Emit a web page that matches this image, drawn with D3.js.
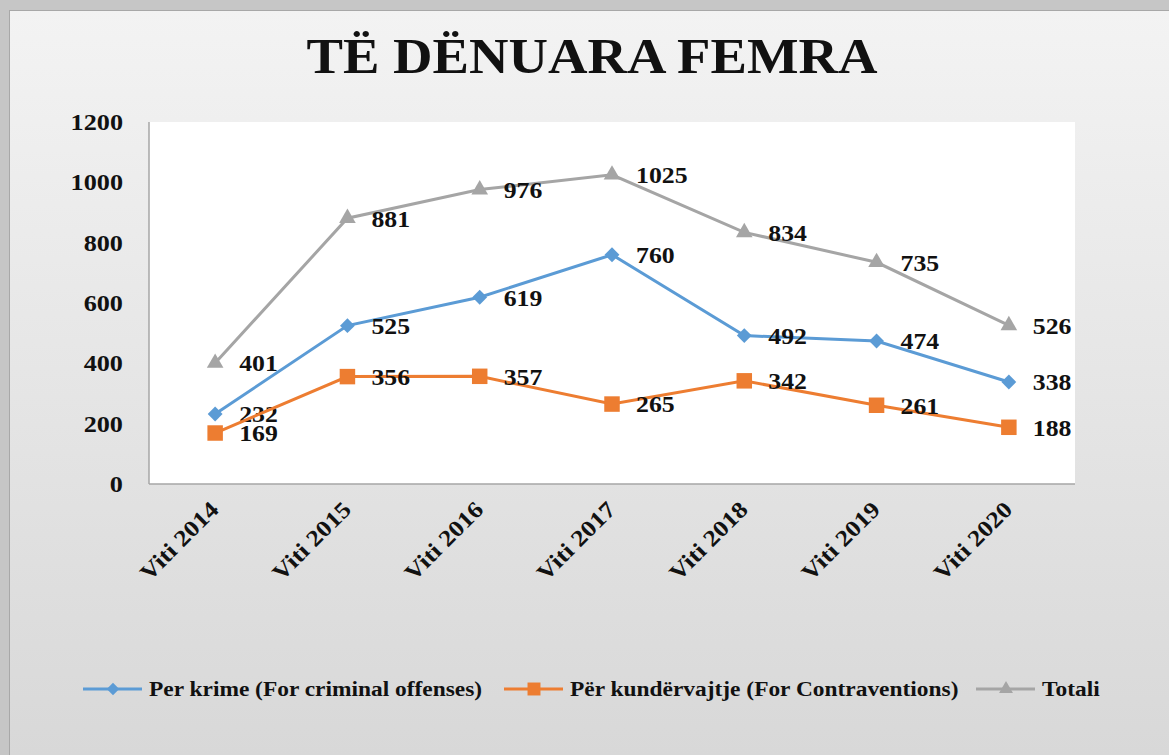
<!DOCTYPE html>
<html>
<head>
<meta charset="utf-8">
<script src="https://cdn.jsdelivr.net/npm/d3@7"></script>
<style>
body { margin: 0; padding: 0; overflow: hidden; }
svg { display: block; }
</style>
</head>
<body>
<div id="chart"></div>
<script>
var width = 1169;
var height = 755;

var years = ["Viti 2014", "Viti 2015", "Viti 2016", "Viti 2017", "Viti 2018", "Viti 2019", "Viti 2020"];
var crimes = [232, 525, 619, 760, 492, 474, 338];
var contraventions = [169, 356, 357, 265, 342, 261, 188];
var totals = [401, 881, 976, 1025, 834, 735, 526];
var yTicks = [0, 200, 400, 600, 800, 1000, 1200];
var seriesNames = ["Per krime (For criminal offenses)", "Për kundërvajtje (For Contraventions)", "Totali"];

var colors = ["#5b9bd5", "#ed7d31", "#a5a5a5"];
var allSeries = [crimes, contraventions, totals];
var font = "'Liberation Serif', 'DejaVu Serif', serif";

var plot = {left: 149, right: 1075, top: 122, bottom: 484};

// the original font (garamond) is wider, so stretch the glyphs a bit
function stretch(sel, k) {
	sel.each(function() {
		var w = this.getComputedTextLength();
		d3.select(this).attr("textLength", w * k).attr("lengthAdjust", "spacingAndGlyphs");
	});
}

// marker shapes: diamond = rotated square
function marker(s, scale) {
	if(s == 0) return {d: d3.symbol().type(d3.symbolSquare).size(110 * scale)(), rot: 45};
	if(s == 1) return {d: d3.symbol().type(d3.symbolSquare).size(240 * scale)(), rot: 0};
	return {d: d3.symbol().type(d3.symbolTriangle).size(120 * scale)(), rot: 0};
}

var svg = d3.select("#chart").append("svg")
	.attr("width", width)
	.attr("height", height);

// background gradient of the chart area
var grad = svg.append("defs").append("linearGradient")
	.attr("id", "bg")
	.attr("x1", 0).attr("y1", 0).attr("x2", 0).attr("y2", 1);
grad.append("stop").attr("offset", "0%").attr("stop-color", "#f3f3f3");
grad.append("stop").attr("offset", "100%").attr("stop-color", "#d8d8d8");

svg.append("rect")
	.attr("width", width).attr("height", height)
	.attr("fill", "#c6c6c6");
svg.append("rect")
	.attr("x", 10).attr("y", 11)
	.attr("width", width - 10).attr("height", height - 11)
	.attr("fill", "url(#bg)");
svg.append("line") //thin darker edges
	.attr("x1", 9.5).attr("y1", 10).attr("x2", 9.5).attr("y2", height)
	.attr("stroke", "#a8a8a8");
svg.append("line")
	.attr("x1", 9).attr("y1", 10.5).attr("x2", width).attr("y2", 10.5)
	.attr("stroke", "#a8a8a8");

// plot area
svg.append("rect")
	.attr("x", plot.left).attr("y", plot.top)
	.attr("width", plot.right - plot.left).attr("height", plot.bottom - plot.top)
	.attr("fill", "white");

var x = d3.scalePoint()
	.domain(years)
	.range([plot.left, plot.right])
	.padding(0.5);

var y = d3.scaleLinear()
	.domain([0, 1200])
	.range([plot.bottom, plot.top]);

// axes lines
svg.append("line")
	.attr("x1", plot.left).attr("y1", plot.top).attr("x2", plot.left).attr("y2", plot.bottom)
	.attr("stroke", "#a6a6a6").attr("stroke-width", 1.5);
svg.append("line")
	.attr("x1", plot.left).attr("y1", plot.bottom).attr("x2", plot.right).attr("y2", plot.bottom)
	.attr("stroke", "#a6a6a6").attr("stroke-width", 1.5);

// y tick labels
svg.selectAll(".ytick")
	.data(yTicks)
	.enter().append("text")
	.attr("class", "ytick")
	.attr("x", 123)
	.attr("y", function(d) { return y(d); })
	.attr("dy", "0.35em")
	.attr("text-anchor", "end")
	.attr("font-family", font)
	.attr("font-size", "23px")
	.attr("font-weight", "bold")
	.attr("fill", "#111")
	.text(function(d) { return d; })
	.call(stretch, 1.14);

// x tick labels rotated
svg.selectAll(".xtick")
	.data(years)
	.enter().append("text")
	.attr("class", "xtick")
	.attr("transform", function(d) { return "translate(" + (x(d) + 5) + "," + 511 + ") rotate(-45)"; })
	.attr("text-anchor", "end")
	.attr("font-family", font)
	.attr("font-size", "23px")
	.attr("font-weight", "bold")
	.attr("fill", "#111")
	.text(function(d) { return d; })
	.call(stretch, 1.14);

// lines, markers and value labels
var line = d3.line()
	.x(function(d, i) { return x(years[i]); })
	.y(function(d) { return y(d); });

allSeries.forEach(function(vals, s) {
	svg.append("path")
		.datum(vals)
		.attr("d", line)
		.attr("fill", "none")
		.attr("stroke", colors[s])
		.attr("stroke-width", 3);

	var m = marker(s, 1);
	svg.selectAll(".m" + s)
		.data(vals)
		.enter().append("path")
		.attr("class", "m" + s)
		.attr("transform", function(d, i) { return "translate(" + x(years[i]) + "," + y(d) + ") rotate(" + m.rot + ")"; })
		.attr("d", m.d)
		.attr("fill", colors[s]);

	svg.selectAll(".l" + s)
		.data(vals)
		.enter().append("text")
		.attr("class", "l" + s)
		.attr("x", function(d, i) { return x(years[i]) + 24; })
		.attr("y", function(d) { return y(d); })
		.attr("dy", "0.36em")
		.attr("font-family", font)
		.attr("font-size", "23px")
		.attr("font-weight", "bold")
		.attr("fill", "#111")
		.text(function(d) { return d; })
		.call(stretch, 1.12);
});

// title
svg.append("text")
	.attr("x", 592)
	.attr("y", 73)
	.attr("text-anchor", "middle")
	.attr("font-family", font)
	.attr("font-size", "50px")
	.attr("font-weight", "bold")
	.attr("fill", "#111")
	.text("TË DËNUARA FEMRA")
	.attr("textLength", 571)
	.attr("lengthAdjust", "spacingAndGlyphs");

// legend
var legendX = [83, 504, 976];
var legendY = 689;
seriesNames.forEach(function(name, s) {
	var g = svg.append("g").attr("transform", "translate(" + legendX[s] + "," + legendY + ")");
	g.append("line")
		.attr("x1", 0).attr("x2", 59)
		.attr("stroke", colors[s])
		.attr("stroke-width", 3);
	var m = marker(s, 0.7);
	g.append("path")
		.attr("transform", "translate(30,0) rotate(" + m.rot + ")")
		.attr("d", m.d)
		.attr("fill", colors[s]);
	g.append("text")
		.attr("x", 66)
		.attr("dy", "0.35em")
		.attr("font-family", font)
		.attr("font-size", "20px")
		.attr("font-weight", "bold")
		.attr("fill", "#111")
		.text(name)
		.call(stretch, 1.17);
});
</script>
</body>
</html>
